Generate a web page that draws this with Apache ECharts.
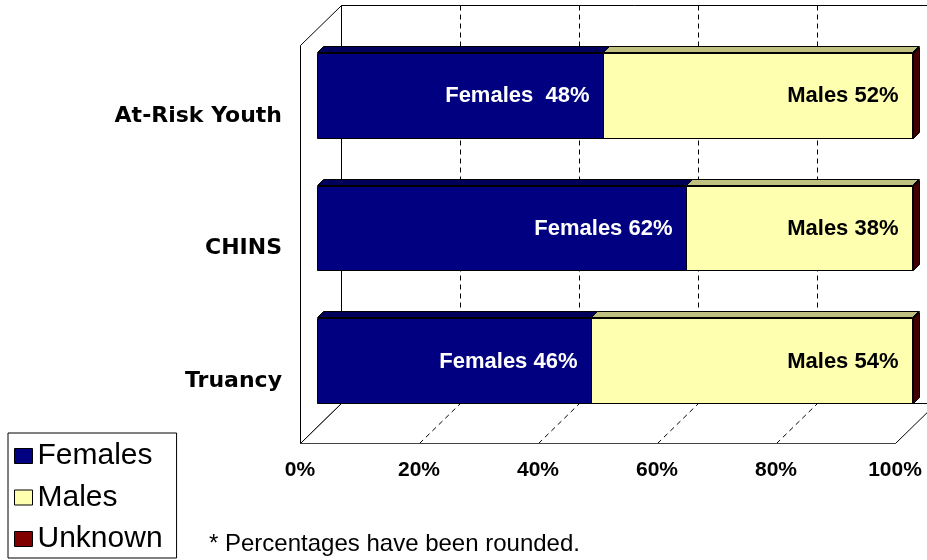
<!DOCTYPE html>
<html><head><meta charset="utf-8">
<script src="https://cdn.jsdelivr.net/npm/echarts@6/dist/echarts.min.js"></script>
<style>html,body{margin:0;padding:0;background:#fff}#c{width:927px;height:560px}</style>
</head><body><div id="c"></div>
<script>
const categories = ['At-Risk Youth', 'CHINS', 'Truancy'];
const females = [48, 62, 46];
const males = [52, 38, 54];
const unknown = [0.2, 0.2, 0.2];
const femaleLabels = ['Females  48%', 'Females 62%', 'Females 46%'];
const maleLabels = ['Males 52%', 'Males 38%', 'Males 54%'];
const xTicks = [0, 20, 40, 60, 80, 100];

const DEPTH = [41, -40];
const BAR_OFF = [17, -16];
const BAR_DEPTH = [6, -6];

const px = v => Math.round(v) + 0.5;

function frameRender(params, api) {
  const cs = params.coordSys;
  const L = px(cs.x), T = px(cs.y), R = px(cs.x + cs.width), B = px(cs.y + cs.height);
  const dx = DEPTH[0], dy = DEPTH[1];
  const st = (dash, color) => ({stroke: color || '#000', lineWidth: 1, fill: null, lineDash: dash || null});
  const ch = [];
  ch.push({type: 'polygon', shape: {points: [[L + dx, T + dy], [R + dx, T + dy], [R + dx, B + dy], [L + dx, B + dy]]}, style: {fill: '#fff', stroke: '#000', lineWidth: 1}});
  ch.push({type: 'polygon', shape: {points: [[L, B], [L, T], [L + dx, T + dy], [L + dx, B + dy]]}, style: {fill: '#fff', stroke: '#000', lineWidth: 1}});
  ch.push({type: 'polygon', shape: {points: [[L, B], [R, B], [R + dx, B + dy], [L + dx, B + dy]]}, style: {fill: '#fff', stroke: '#000', lineWidth: 1}});
  xTicks.slice(1, -1).forEach(t => {
    const x = px(api.coord([t, 0])[0]);
    ch.push({type: 'polyline', shape: {points: [[x + dx, T + dy], [x + dx, B + dy]]}, style: st([5, 4])});
    ch.push({type: 'polyline', shape: {points: [[x, B], [x + dx, B + dy]]}, style: st([5, 4])});
  });
  ch.push({type: 'polyline', shape: {points: [[L, B], [R, B]]}, style: st(null, '#444')});
  return {type: 'group', children: ch};
}

function barRender(fill, top, side, labels, labelColor) {
  return function (params, api) {
    const s = api.value(0), e = api.value(1), c = api.value(2);
    const p0 = api.coord([s, c]), p1 = api.coord([e, c]);
    const h = api.size([0, 1])[1] * 0.64;
    const x0 = px(p0[0] + BAR_OFF[0]), x1 = px(p1[0] + BAR_OFF[0]);
    const yc = p0[1] + BAR_OFF[1];
    const yt = px(yc - h / 2), yb = px(yc + h / 2);
    const dx = BAR_DEPTH[0], dy = BAR_DEPTH[1];
    const children = [
      {type: 'polygon', shape: {points: [[x1, yt], [x1 + dx, yt + dy], [x1 + dx, yb + dy], [x1, yb]]}, style: {fill: side, stroke: '#000', lineWidth: 1}},
      {type: 'polygon', shape: {points: [[x0, yt - 1], [x0 + dx, yt + dy - 1], [x1 + dx, yt + dy - 1], [x1, yt - 1]]}, style: {fill: top, stroke: '#000', lineWidth: 1}},
      {type: 'rect', shape: {x: x0, y: yt, width: x1 - x0, height: yb - yt}, style: {fill: fill, stroke: '#000', lineWidth: 1}}
    ];
    if (labels) {
      children.push({type: 'text', style: {text: labels[params.dataIndex], x: x1 - 14, y: yc + 1, align: 'right', verticalAlign: 'middle', fill: labelColor, font: 'bold 22px "Liberation Sans", Arial, sans-serif'}});
    }
    return {type: 'group', children: children};
  };
}

const femData = categories.map((c, i) => [0, females[i], i]);
const maleData = categories.map((c, i) => [females[i], females[i] + males[i], i]);
const unkData = categories.map((c, i) => [females[i] + males[i], females[i] + males[i] + unknown[i], i]);

const chart = echarts.init(document.getElementById('c'));
chart.setOption({
  animation: false,
  backgroundColor: '#fff',
  grid: {left: 300, top: 45, width: 595, height: 398},
  xAxis: {
    type: 'value', min: 0, max: 100, interval: 20,
    axisLine: {show: false}, axisTick: {show: false}, splitLine: {show: false},
    axisLabel: {formatter: '{value}%', margin: 17, color: '#000', fontWeight: 'bold', fontSize: 21, fontFamily: '"Liberation Sans", Arial, sans-serif'}
  },
  yAxis: {
    type: 'category', data: categories, inverse: true,
    axisLine: {show: false}, axisTick: {show: false}, splitLine: {show: false},
    axisLabel: {margin: 18, color: '#000', fontWeight: 'bold', fontSize: 22, verticalAlign: 'top', lineHeight: 9, fontFamily: '"DejaVu Sans", Verdana, sans-serif'}
  },
  legend: {
    data: ['Females', 'Males', 'Unknown'], orient: 'vertical', left: 8, top: 433,
    itemWidth: 18, itemHeight: 15, itemGap: 11.5, itemTextGap: 2,
    padding: [8, 14, 4, 6], borderColor: '#000', borderWidth: 1, icon: 'rect', selectedMode: false,
    textStyle: {fontSize: 30, color: '#000', fontFamily: '"Liberation Sans", Arial, sans-serif'},
    itemStyle: {borderColor: '#000', borderWidth: 1}
  },
  graphic: [{type: 'text', left: 209, top: 532, style: {text: '* Percentages have been rounded.', fill: '#000', font: '24px "Liberation Sans", Arial, sans-serif'}}],
  series: [
    {type: 'custom', name: 'frame', renderItem: frameRender, data: [[0, 0, 0]], encode: {x: 0, y: 1}, silent: true, z: 1, clip: false},
    {type: 'custom', name: 'Females', renderItem: barRender('#000080', '#00005a', '#000050', femaleLabels, '#fff'), data: femData, encode: {x: [0, 1], y: 2}, itemStyle: {color: '#000080'}, z: 2, clip: false},
    {type: 'custom', name: 'Males', renderItem: barRender('#ffffb0', '#c0c080', '#a0a070', maleLabels, '#000'), data: maleData, encode: {x: [0, 1], y: 2}, itemStyle: {color: '#ffffb0'}, z: 2, clip: false},
    {type: 'custom', name: 'Unknown', renderItem: barRender('#800000', '#600000', '#400000', null, '#000'), data: unkData, encode: {x: [0, 1], y: 2}, itemStyle: {color: '#800000'}, z: 2, clip: false}
  ]
});
</script></body></html>
